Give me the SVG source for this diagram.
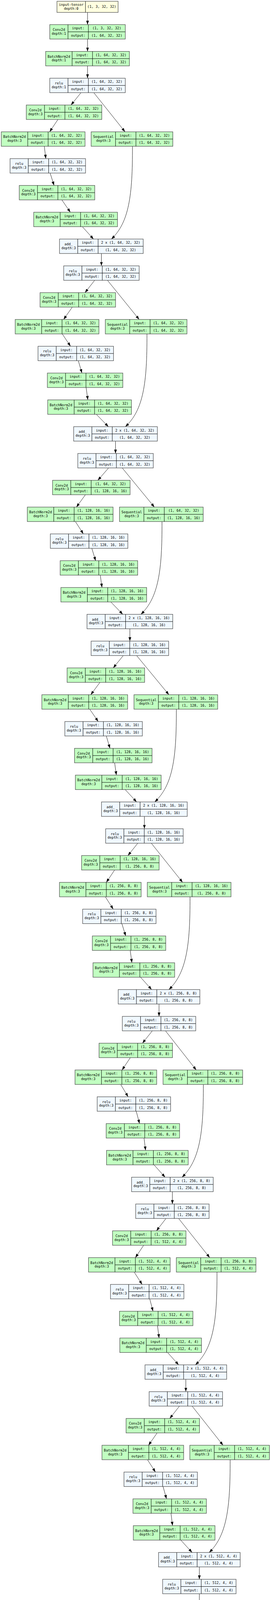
<svg xmlns="http://www.w3.org/2000/svg" width="691" height="4349" viewBox="0 0 691 4349">
<defs>
<style>
.nd rect{stroke:#4a4a4a;stroke-width:1.2}
.gr rect{fill:#c1ffc1}
.bl rect{fill:#f0f8ff}
.ye rect{fill:#ffffe0}
.nd path{stroke:#000;stroke-width:1;fill:none}
text{font-family:"DejaVu Sans Mono","Liberation Mono",monospace;font-size:8.75px;fill:#000;text-anchor:middle}
.e{stroke:#1a1a1a;stroke-width:1;fill:none;marker-end:url(#ah)}
</style>
<marker id="ah" markerUnits="userSpaceOnUse" markerWidth="10" markerHeight="7" refX="10" refY="3.5" orient="auto"><path d="M0,0L10,3.5L0,7z" fill="#000"/></marker>
</defs>
<rect width="691" height="4349" fill="#fff"/>
<g id="edges">
<path class="e" d="M224,31.7L224,63"/>
<path class="e" d="M224,100L224,131.62"/>
<path class="e" d="M224,168.62L224,200.24"/>
<path class="e" d="M207.3,237.24L181.7,268.86"/>
<path class="e" d="M240,237.24L320,337.48"/>
<path class="e" d="M148.3,305.86L127,337.48"/>
<path class="e" d="M113.3,374.48L117.3,406.1"/>
<path class="e" d="M128.3,443.1L138.3,474.72"/>
<path class="e" d="M158.3,511.72L180,543.34"/>
<path class="e" d="M210.7,580.34L239.3,611.96"/>
<path class="e" d="M339,374.48C339.5,500 330,570 285,611.96"/>
<path class="e" d="M259.5,648.96L259.5,680.58"/>
<path class="e" d="M242.3,717.58L217.5,749.2"/>
<path class="e" d="M275,717.58L356.2,817.82"/>
<path class="e" d="M185,786.2L162.8,817.82"/>
<path class="e" d="M159.3,854.82L180.5,886.44"/>
<path class="e" d="M200.4,923.44L209.7,955.06"/>
<path class="e" d="M220.4,992.06L224.8,1023.68"/>
<path class="e" d="M246.5,1060.68L277.4,1092.3"/>
<path class="e" d="M376.1,854.82C376.6,980 367,1050 320.8,1092.3"/>
<path class="e" d="M295.6,1129.3L295.6,1160.92"/>
<path class="e" d="M277.9,1197.92L250.4,1229.54"/>
<path class="e" d="M312.8,1197.92L395.1,1298.16"/>
<path class="e" d="M218.6,1266.54L195.6,1298.16"/>
<path class="e" d="M192.9,1335.16L213.3,1366.78"/>
<path class="e" d="M235,1403.78L244.7,1435.4"/>
<path class="e" d="M256.6,1472.4L261,1504.02"/>
<path class="e" d="M283.6,1541.02L314.2,1572.64"/>
<path class="e" d="M414.6,1335.16C415.1,1460 405.6,1530 360.6,1572.64"/>
<path class="e" d="M332.4,1609.64L332.4,1641.26"/>
<path class="e" d="M315.5,1678.26L289.8,1709.88"/>
<path class="e" d="M349.6,1678.26L432.3,1778.5"/>
<path class="e" d="M255.8,1746.88L232.3,1778.5"/>
<path class="e" d="M229.6,1815.5L251.3,1847.12"/>
<path class="e" d="M272.1,1884.12L281.4,1915.74"/>
<path class="e" d="M293.4,1952.74L297.8,1984.36"/>
<path class="e" d="M320.4,2021.36L349.6,2052.98"/>
<path class="e" d="M451.3,1815.5C451.8,1940 442.3,2010 396,2052.98"/>
<path class="e" d="M369.5,2089.98L369.5,2121.6"/>
<path class="e" d="M352.7,2158.6L327.4,2190.22"/>
<path class="e" d="M387.2,2158.6L467.3,2258.84"/>
<path class="e" d="M293.4,2227.22L272.1,2258.84"/>
<path class="e" d="M269.5,2295.84L289.8,2327.46"/>
<path class="e" d="M311.9,2364.46L321.7,2396.08"/>
<path class="e" d="M333.2,2433.08L337.6,2464.7"/>
<path class="e" d="M359.7,2501.7L388,2533.32"/>
<path class="e" d="M486.3,2295.84C486.8,2420 477.3,2490 432.3,2533.32"/>
<path class="e" d="M407,2570.32L407,2601.94"/>
<path class="e" d="M389.8,2638.94L364.6,2670.56"/>
<path class="e" d="M423.5,2638.94L502.2,2739.18"/>
<path class="e" d="M333.6,2707.56L312.4,2739.18"/>
<path class="e" d="M308.8,2776.18L327.9,2807.8"/>
<path class="e" d="M348.7,2844.8L357.1,2876.42"/>
<path class="e" d="M368.6,2913.42L372.6,2945.04"/>
<path class="e" d="M394.2,2982.04L422.6,3013.66"/>
<path class="e" d="M520.4,2776.18C520.9,2900 511.4,2970 465.9,3013.66"/>
<path class="e" d="M441.2,3050.66L441.2,3082.28"/>
<path class="e" d="M424.8,3119.28L400.4,3150.9"/>
<path class="e" d="M457.1,3119.28L536.7,3219.52"/>
<path class="e" d="M367.7,3187.9L346.5,3219.52"/>
<path class="e" d="M343.4,3256.52L363.7,3288.14"/>
<path class="e" d="M383.2,3325.14L391.6,3356.76"/>
<path class="e" d="M403.1,3393.76L407.1,3425.38"/>
<path class="e" d="M428.8,3462.38L457.1,3494"/>
<path class="e" d="M555.3,3256.52C555.8,3381 546.3,3451 500,3494"/>
<path class="e" d="M475.6,3531L475.6,3562.62"/>
<path class="e" d="M459.3,3599.62L434.5,3631.24"/>
<path class="e" d="M491.6,3599.62L570.8,3699.86"/>
<path class="e" d="M402.2,3668.24L380.1,3699.86"/>
<path class="e" d="M377.4,3736.86L397.8,3768.48"/>
<path class="e" d="M417.3,3805.48L426.1,3837.1"/>
<path class="e" d="M437.6,3874.1L441.6,3905.72"/>
<path class="e" d="M462.8,3942.72L491.6,3974.34"/>
<path class="e" d="M589,3736.86C589.5,3861 580,3931 535.4,3974.34"/>
<path class="e" d="M510.2,4011.34L510.2,4042.96"/>
<path class="e" d="M510.2,4079.96L510.2,4111.58"/>
<path class="e" d="M510.2,4148.58L510.2,4180.2"/>
<path class="e" d="M510.2,4217.2L510.2,4248.82"/>
<path class="e" d="M510.2,4285.82L510.2,4317.4"/>
</g>

<g id="n0" class="nd ye" transform="translate(145.75,3.3)"><rect width="156.5" height="28.4"/><path d="M73,0V28.4"/><text x="36.5" y="12">input-tensor</text><text x="36.5" y="22">depth:0</text><text x="114.75" y="16.4">(1, 3, 32, 32)</text></g>
<g id="n1" class="nd gr" transform="translate(127.4,63)"><rect width="193.2" height="37"/><path d="M46.6,0V37M98.8,0V37M46.6,18.5H193.2"/><text x="23.3" y="16">Conv2d</text><text x="23.3" y="25.7">depth:1</text><text x="72.7" y="12.25">input:</text><text x="72.7" y="30.75">output:</text><text x="146" y="12.25">(1, 3, 32, 32)</text><text x="146" y="30.75">(1, 64, 32, 32)</text></g>
<g id="n2" class="nd gr" transform="translate(116.85,131.62)"><rect width="214.3" height="37"/><path d="M67.7,0V37M119.9,0V37M67.7,18.5H214.3"/><text x="33.85" y="16">BatchNorm2d</text><text x="33.85" y="25.7">depth:1</text><text x="93.8" y="12.25">input:</text><text x="93.8" y="30.75">output:</text><text x="167.1" y="12.25">(1, 64, 32, 32)</text><text x="167.1" y="30.75">(1, 64, 32, 32)</text></g>
<g id="n3" class="nd bl" transform="translate(127.4,200.24)"><rect width="193.2" height="37"/><path d="M46.6,0V37M98.8,0V37M46.6,18.5H193.2"/><text x="23.3" y="16">relu</text><text x="23.3" y="25.7">depth:1</text><text x="72.7" y="12.25">input:</text><text x="72.7" y="30.75">output:</text><text x="146" y="12.25">(1, 64, 32, 32)</text><text x="146" y="30.75">(1, 64, 32, 32)</text></g>

<g id="n4" class="nd gr" transform="translate(67.3,268.86)"><rect width="193.2" height="37"/><path d="M46.6,0V37M98.8,0V37M46.6,18.5H193.2"/><text x="23.3" y="16">Conv2d</text><text x="23.3" y="25.7">depth:3</text><text x="72.7" y="12.25">input:</text><text x="72.7" y="30.75">output:</text><text x="146" y="12.25">(1, 64, 32, 32)</text><text x="146" y="30.75">(1, 64, 32, 32)</text></g>
<g id="n5" class="nd gr" transform="translate(3.3,337.48)"><rect width="214.3" height="37"/><path d="M67.7,0V37M119.9,0V37M67.7,18.5H214.3"/><text x="33.85" y="16">BatchNorm2d</text><text x="33.85" y="25.7">depth:3</text><text x="93.8" y="12.25">input:</text><text x="93.8" y="30.75">output:</text><text x="167.1" y="12.25">(1, 64, 32, 32)</text><text x="167.1" y="30.75">(1, 64, 32, 32)</text></g>
<g id="s5" class="nd gr" transform="translate(233.3,337.48)"><rect width="209" height="37"/><path d="M62.4,0V37M114.6,0V37M62.4,18.5H209"/><text x="31.2" y="16">Sequential</text><text x="31.2" y="25.7">depth:3</text><text x="88.5" y="12.25">input:</text><text x="88.5" y="30.75">output:</text><text x="161.8" y="12.25">(1, 64, 32, 32)</text><text x="161.8" y="30.75">(1, 64, 32, 32)</text></g>
<g id="n6" class="nd bl" transform="translate(25.7,406.1)"><rect width="193.2" height="37"/><path d="M46.6,0V37M98.8,0V37M46.6,18.5H193.2"/><text x="23.3" y="16">relu</text><text x="23.3" y="25.7">depth:3</text><text x="72.7" y="12.25">input:</text><text x="72.7" y="30.75">output:</text><text x="146" y="12.25">(1, 64, 32, 32)</text><text x="146" y="30.75">(1, 64, 32, 32)</text></g>
<g id="n7" class="nd gr" transform="translate(49.3,474.72)"><rect width="193.2" height="37"/><path d="M46.6,0V37M98.8,0V37M46.6,18.5H193.2"/><text x="23.3" y="16">Conv2d</text><text x="23.3" y="25.7">depth:3</text><text x="72.7" y="12.25">input:</text><text x="72.7" y="30.75">output:</text><text x="146" y="12.25">(1, 64, 32, 32)</text><text x="146" y="30.75">(1, 64, 32, 32)</text></g>
<g id="n8" class="nd gr" transform="translate(86.3,543.34)"><rect width="214.3" height="37"/><path d="M67.7,0V37M119.9,0V37M67.7,18.5H214.3"/><text x="33.85" y="16">BatchNorm2d</text><text x="33.85" y="25.7">depth:3</text><text x="93.8" y="12.25">input:</text><text x="93.8" y="30.75">output:</text><text x="167.1" y="12.25">(1, 64, 32, 32)</text><text x="167.1" y="30.75">(1, 64, 32, 32)</text></g>
<g id="n9" class="nd bl" transform="translate(152.3,611.96)"><rect width="214.2" height="37"/><path d="M46.6,0V37M98.8,0V37M46.6,18.5H214.2"/><text x="23.3" y="16">add_</text><text x="23.3" y="25.7">depth:3</text><text x="72.7" y="12.25">input:</text><text x="72.7" y="30.75">output:</text><text x="156.5" y="12.25">2 x (1, 64, 32, 32)</text><text x="156.5" y="30.75">(1, 64, 32, 32)</text></g>
<g id="n10" class="nd bl" transform="translate(163,680.58)"><rect width="193.2" height="37"/><path d="M46.6,0V37M98.8,0V37M46.6,18.5H193.2"/><text x="23.3" y="16">relu</text><text x="23.3" y="25.7">depth:3</text><text x="72.7" y="12.25">input:</text><text x="72.7" y="30.75">output:</text><text x="146" y="12.25">(1, 64, 32, 32)</text><text x="146" y="30.75">(1, 64, 32, 32)</text></g>

<g id="n11" class="nd gr" transform="translate(102.5,749.2)"><rect width="193.2" height="37"/><path d="M46.6,0V37M98.8,0V37M46.6,18.5H193.2"/><text x="23.3" y="16">Conv2d</text><text x="23.3" y="25.7">depth:3</text><text x="72.7" y="12.25">input:</text><text x="72.7" y="30.75">output:</text><text x="146" y="12.25">(1, 64, 32, 32)</text><text x="146" y="30.75">(1, 64, 32, 32)</text></g>
<g id="n12" class="nd gr" transform="translate(38.9,817.82)"><rect width="214.3" height="37"/><path d="M67.7,0V37M119.9,0V37M67.7,18.5H214.3"/><text x="33.85" y="16">BatchNorm2d</text><text x="33.85" y="25.7">depth:3</text><text x="93.8" y="12.25">input:</text><text x="93.8" y="30.75">output:</text><text x="167.1" y="12.25">(1, 64, 32, 32)</text><text x="167.1" y="30.75">(1, 64, 32, 32)</text></g>
<g id="s12" class="nd gr" transform="translate(269.5,817.82)"><rect width="209" height="37"/><path d="M62.4,0V37M114.6,0V37M62.4,18.5H209"/><text x="31.2" y="16">Sequential</text><text x="31.2" y="25.7">depth:3</text><text x="88.5" y="12.25">input:</text><text x="88.5" y="30.75">output:</text><text x="161.8" y="12.25">(1, 64, 32, 32)</text><text x="161.8" y="30.75">(1, 64, 32, 32)</text></g>
<g id="n13" class="nd bl" transform="translate(97.3,886.44)"><rect width="193.2" height="37"/><path d="M46.6,0V37M98.8,0V37M46.6,18.5H193.2"/><text x="23.3" y="16">relu</text><text x="23.3" y="25.7">depth:3</text><text x="72.7" y="12.25">input:</text><text x="72.7" y="30.75">output:</text><text x="146" y="12.25">(1, 64, 32, 32)</text><text x="146" y="30.75">(1, 64, 32, 32)</text></g>
<g id="n14" class="nd gr" transform="translate(121.2,955.06)"><rect width="193.2" height="37"/><path d="M46.6,0V37M98.8,0V37M46.6,18.5H193.2"/><text x="23.3" y="16">Conv2d</text><text x="23.3" y="25.7">depth:3</text><text x="72.7" y="12.25">input:</text><text x="72.7" y="30.75">output:</text><text x="146" y="12.25">(1, 64, 32, 32)</text><text x="146" y="30.75">(1, 64, 32, 32)</text></g>
<g id="n15" class="nd gr" transform="translate(122.1,1023.68)"><rect width="214.3" height="37"/><path d="M67.7,0V37M119.9,0V37M67.7,18.5H214.3"/><text x="33.85" y="16">BatchNorm2d</text><text x="33.85" y="25.7">depth:3</text><text x="93.8" y="12.25">input:</text><text x="93.8" y="30.75">output:</text><text x="167.1" y="12.25">(1, 64, 32, 32)</text><text x="167.1" y="30.75">(1, 64, 32, 32)</text></g>
<g id="n16" class="nd bl" transform="translate(188.5,1092.3)"><rect width="214.2" height="37"/><path d="M46.6,0V37M98.8,0V37M46.6,18.5H214.2"/><text x="23.3" y="16">add_</text><text x="23.3" y="25.7">depth:3</text><text x="72.7" y="12.25">input:</text><text x="72.7" y="30.75">output:</text><text x="156.5" y="12.25">2 x (1, 64, 32, 32)</text><text x="156.5" y="30.75">(1, 64, 32, 32)</text></g>
<g id="n17" class="nd bl" transform="translate(199.1,1160.92)"><rect width="193.2" height="37"/><path d="M46.6,0V37M98.8,0V37M46.6,18.5H193.2"/><text x="23.3" y="16">relu</text><text x="23.3" y="25.7">depth:3</text><text x="72.7" y="12.25">input:</text><text x="72.7" y="30.75">output:</text><text x="146" y="12.25">(1, 64, 32, 32)</text><text x="146" y="30.75">(1, 64, 32, 32)</text></g>

<g id="n18" class="nd gr" transform="translate(134.5,1229.54)"><rect width="198.4" height="37"/><path d="M46.6,0V37M98.8,0V37M46.6,18.5H198.4"/><text x="23.3" y="16">Conv2d</text><text x="23.3" y="25.7">depth:3</text><text x="72.7" y="12.25">input:</text><text x="72.7" y="30.75">output:</text><text x="148.6" y="12.25">(1, 64, 32, 32)</text><text x="148.6" y="30.75">(1, 128, 16, 16)</text></g>
<g id="n19" class="nd gr" transform="translate(69.9,1298.16)"><rect width="219.5" height="37"/><path d="M67.7,0V37M119.9,0V37M67.7,18.5H219.5"/><text x="33.85" y="16">BatchNorm2d</text><text x="33.85" y="25.7">depth:3</text><text x="93.8" y="12.25">input:</text><text x="93.8" y="30.75">output:</text><text x="169.7" y="12.25">(1, 128, 16, 16)</text><text x="169.7" y="30.75">(1, 128, 16, 16)</text></g>
<g id="s19" class="nd gr" transform="translate(305.8,1298.16)"><rect width="214.2" height="37"/><path d="M62.4,0V37M114.6,0V37M62.4,18.5H214.2"/><text x="31.2" y="16">Sequential</text><text x="31.2" y="25.7">depth:3</text><text x="88.5" y="12.25">input:</text><text x="88.5" y="30.75">output:</text><text x="164.4" y="12.25">(1, 64, 32, 32)</text><text x="164.4" y="30.75">(1, 128, 16, 16)</text></g>
<g id="n20" class="nd bl" transform="translate(128.8,1366.78)"><rect width="198.4" height="37"/><path d="M46.6,0V37M98.8,0V37M46.6,18.5H198.4"/><text x="23.3" y="16">relu</text><text x="23.3" y="25.7">depth:3</text><text x="72.7" y="12.25">input:</text><text x="72.7" y="30.75">output:</text><text x="148.6" y="12.25">(1, 128, 16, 16)</text><text x="148.6" y="30.75">(1, 128, 16, 16)</text></g>
<g id="n21" class="nd gr" transform="translate(154,1435.4)"><rect width="198.4" height="37"/><path d="M46.6,0V37M98.8,0V37M46.6,18.5H198.4"/><text x="23.3" y="16">Conv2d</text><text x="23.3" y="25.7">depth:3</text><text x="72.7" y="12.25">input:</text><text x="72.7" y="30.75">output:</text><text x="148.6" y="12.25">(1, 128, 16, 16)</text><text x="148.6" y="30.75">(1, 128, 16, 16)</text></g>
<g id="n22" class="nd gr" transform="translate(155.8,1504.02)"><rect width="219.5" height="37"/><path d="M67.7,0V37M119.9,0V37M67.7,18.5H219.5"/><text x="33.85" y="16">BatchNorm2d</text><text x="33.85" y="25.7">depth:3</text><text x="93.8" y="12.25">input:</text><text x="93.8" y="30.75">output:</text><text x="169.7" y="12.25">(1, 128, 16, 16)</text><text x="169.7" y="30.75">(1, 128, 16, 16)</text></g>
<g id="n23" class="nd bl" transform="translate(222.6,1572.64)"><rect width="219.5" height="37"/><path d="M46.6,0V37M98.8,0V37M46.6,18.5H219.5"/><text x="23.3" y="16">add_</text><text x="23.3" y="25.7">depth:3</text><text x="72.7" y="12.25">input:</text><text x="72.7" y="30.75">output:</text><text x="159.15" y="12.25">2 x (1, 128, 16, 16)</text><text x="159.15" y="30.75">(1, 128, 16, 16)</text></g>
<g id="n24" class="nd bl" transform="translate(233.2,1641.26)"><rect width="198.4" height="37"/><path d="M46.6,0V37M98.8,0V37M46.6,18.5H198.4"/><text x="23.3" y="16">relu</text><text x="23.3" y="25.7">depth:3</text><text x="72.7" y="12.25">input:</text><text x="72.7" y="30.75">output:</text><text x="148.6" y="12.25">(1, 128, 16, 16)</text><text x="148.6" y="30.75">(1, 128, 16, 16)</text></g>

<g id="n25" class="nd gr" transform="translate(171.7,1709.88)"><rect width="198.4" height="37"/><path d="M46.6,0V37M98.8,0V37M46.6,18.5H198.4"/><text x="23.3" y="16">Conv2d</text><text x="23.3" y="25.7">depth:3</text><text x="72.7" y="12.25">input:</text><text x="72.7" y="30.75">output:</text><text x="148.6" y="12.25">(1, 128, 16, 16)</text><text x="148.6" y="30.75">(1, 128, 16, 16)</text></g>
<g id="n26" class="nd gr" transform="translate(107.1,1778.5)"><rect width="219.5" height="37"/><path d="M67.7,0V37M119.9,0V37M67.7,18.5H219.5"/><text x="33.85" y="16">BatchNorm2d</text><text x="33.85" y="25.7">depth:3</text><text x="93.8" y="12.25">input:</text><text x="93.8" y="30.75">output:</text><text x="169.7" y="12.25">(1, 128, 16, 16)</text><text x="169.7" y="30.75">(1, 128, 16, 16)</text></g>
<g id="s26" class="nd gr" transform="translate(342.9,1778.5)"><rect width="214.2" height="37"/><path d="M62.4,0V37M114.6,0V37M62.4,18.5H214.2"/><text x="31.2" y="16">Sequential</text><text x="31.2" y="25.7">depth:3</text><text x="88.5" y="12.25">input:</text><text x="88.5" y="30.75">output:</text><text x="164.4" y="12.25">(1, 128, 16, 16)</text><text x="164.4" y="30.75">(1, 128, 16, 16)</text></g>
<g id="n27" class="nd bl" transform="translate(165.9,1847.12)"><rect width="198.4" height="37"/><path d="M46.6,0V37M98.8,0V37M46.6,18.5H198.4"/><text x="23.3" y="16">relu</text><text x="23.3" y="25.7">depth:3</text><text x="72.7" y="12.25">input:</text><text x="72.7" y="30.75">output:</text><text x="148.6" y="12.25">(1, 128, 16, 16)</text><text x="148.6" y="30.75">(1, 128, 16, 16)</text></g>
<g id="n28" class="nd gr" transform="translate(190.7,1915.74)"><rect width="198.4" height="37"/><path d="M46.6,0V37M98.8,0V37M46.6,18.5H198.4"/><text x="23.3" y="16">Conv2d</text><text x="23.3" y="25.7">depth:3</text><text x="72.7" y="12.25">input:</text><text x="72.7" y="30.75">output:</text><text x="148.6" y="12.25">(1, 128, 16, 16)</text><text x="148.6" y="30.75">(1, 128, 16, 16)</text></g>
<g id="n29" class="nd gr" transform="translate(192.9,1984.36)"><rect width="219.5" height="37"/><path d="M67.7,0V37M119.9,0V37M67.7,18.5H219.5"/><text x="33.85" y="16">BatchNorm2d</text><text x="33.85" y="25.7">depth:3</text><text x="93.8" y="12.25">input:</text><text x="93.8" y="30.75">output:</text><text x="169.7" y="12.25">(1, 128, 16, 16)</text><text x="169.7" y="30.75">(1, 128, 16, 16)</text></g>
<g id="n30" class="nd bl" transform="translate(259.7,2052.98)"><rect width="219.5" height="37"/><path d="M46.6,0V37M98.8,0V37M46.6,18.5H219.5"/><text x="23.3" y="16">add_</text><text x="23.3" y="25.7">depth:3</text><text x="72.7" y="12.25">input:</text><text x="72.7" y="30.75">output:</text><text x="159.15" y="12.25">2 x (1, 128, 16, 16)</text><text x="159.15" y="30.75">(1, 128, 16, 16)</text></g>
<g id="n31" class="nd bl" transform="translate(270.4,2121.6)"><rect width="198.4" height="37"/><path d="M46.6,0V37M98.8,0V37M46.6,18.5H198.4"/><text x="23.3" y="16">relu</text><text x="23.3" y="25.7">depth:3</text><text x="72.7" y="12.25">input:</text><text x="72.7" y="30.75">output:</text><text x="148.6" y="12.25">(1, 128, 16, 16)</text><text x="148.6" y="30.75">(1, 128, 16, 16)</text></g>

<g id="n32" class="nd gr" transform="translate(208.8,2190.22)"><rect width="198.4" height="37"/><path d="M46.6,0V37M98.8,0V37M46.6,18.5H198.4"/><text x="23.3" y="16">Conv2d</text><text x="23.3" y="25.7">depth:3</text><text x="72.7" y="12.25">input:</text><text x="72.7" y="30.75">output:</text><text x="148.6" y="12.25">(1, 128, 16, 16)</text><text x="148.6" y="30.75">(1, 256, 8, 8)</text></g>
<g id="n33" class="nd gr" transform="translate(152.2,2258.84)"><rect width="209" height="37"/><path d="M67.7,0V37M119.9,0V37M67.7,18.5H209"/><text x="33.85" y="16">BatchNorm2d</text><text x="33.85" y="25.7">depth:3</text><text x="93.8" y="12.25">input:</text><text x="93.8" y="30.75">output:</text><text x="164.45" y="12.25">(1, 256, 8, 8)</text><text x="164.45" y="30.75">(1, 256, 8, 8)</text></g>
<g id="s33" class="nd gr" transform="translate(377,2258.84)"><rect width="214.2" height="37"/><path d="M62.4,0V37M114.6,0V37M62.4,18.5H214.2"/><text x="31.2" y="16">Sequential</text><text x="31.2" y="25.7">depth:3</text><text x="88.5" y="12.25">input:</text><text x="88.5" y="30.75">output:</text><text x="164.4" y="12.25">(1, 128, 16, 16)</text><text x="164.4" y="30.75">(1, 256, 8, 8)</text></g>
<g id="n34" class="nd bl" transform="translate(211.5,2327.46)"><rect width="187.9" height="37"/><path d="M46.6,0V37M98.8,0V37M46.6,18.5H187.9"/><text x="23.3" y="16">relu</text><text x="23.3" y="25.7">depth:3</text><text x="72.7" y="12.25">input:</text><text x="72.7" y="30.75">output:</text><text x="143.35" y="12.25">(1, 256, 8, 8)</text><text x="143.35" y="30.75">(1, 256, 8, 8)</text></g>
<g id="n35" class="nd gr" transform="translate(236.3,2396.08)"><rect width="187.9" height="37"/><path d="M46.6,0V37M98.8,0V37M46.6,18.5H187.9"/><text x="23.3" y="16">Conv2d</text><text x="23.3" y="25.7">depth:3</text><text x="72.7" y="12.25">input:</text><text x="72.7" y="30.75">output:</text><text x="143.35" y="12.25">(1, 256, 8, 8)</text><text x="143.35" y="30.75">(1, 256, 8, 8)</text></g>
<g id="n36" class="nd gr" transform="translate(238,2464.7)"><rect width="209" height="37"/><path d="M67.7,0V37M119.9,0V37M67.7,18.5H209"/><text x="33.85" y="16">BatchNorm2d</text><text x="33.85" y="25.7">depth:3</text><text x="93.8" y="12.25">input:</text><text x="93.8" y="30.75">output:</text><text x="164.45" y="12.25">(1, 256, 8, 8)</text><text x="164.45" y="30.75">(1, 256, 8, 8)</text></g>
<g id="n37" class="nd bl" transform="translate(302.5,2533.32)"><rect width="209" height="37"/><path d="M46.6,0V37M98.8,0V37M46.6,18.5H209"/><text x="23.3" y="16">add_</text><text x="23.3" y="25.7">depth:3</text><text x="72.7" y="12.25">input:</text><text x="72.7" y="30.75">output:</text><text x="153.9" y="12.25">2 x (1, 256, 8, 8)</text><text x="153.9" y="30.75">(1, 256, 8, 8)</text></g>
<g id="n38" class="nd bl" transform="translate(313.05,2601.94)"><rect width="187.9" height="37"/><path d="M46.6,0V37M98.8,0V37M46.6,18.5H187.9"/><text x="23.3" y="16">relu</text><text x="23.3" y="25.7">depth:3</text><text x="72.7" y="12.25">input:</text><text x="72.7" y="30.75">output:</text><text x="143.35" y="12.25">(1, 256, 8, 8)</text><text x="143.35" y="30.75">(1, 256, 8, 8)</text></g>

<g id="n39" class="nd gr" transform="translate(253.5,2670.56)"><rect width="187.9" height="37"/><path d="M46.6,0V37M98.8,0V37M46.6,18.5H187.9"/><text x="23.3" y="16">Conv2d</text><text x="23.3" y="25.7">depth:3</text><text x="72.7" y="12.25">input:</text><text x="72.7" y="30.75">output:</text><text x="143.35" y="12.25">(1, 256, 8, 8)</text><text x="143.35" y="30.75">(1, 256, 8, 8)</text></g>
<g id="n40" class="nd gr" transform="translate(192,2739.18)"><rect width="209" height="37"/><path d="M67.7,0V37M119.9,0V37M67.7,18.5H209"/><text x="33.85" y="16">BatchNorm2d</text><text x="33.85" y="25.7">depth:3</text><text x="93.8" y="12.25">input:</text><text x="93.8" y="30.75">output:</text><text x="164.45" y="12.25">(1, 256, 8, 8)</text><text x="164.45" y="30.75">(1, 256, 8, 8)</text></g>
<g id="s40" class="nd gr" transform="translate(417.3,2739.18)"><rect width="203.7" height="37"/><path d="M62.4,0V37M114.6,0V37M62.4,18.5H203.7"/><text x="31.2" y="16">Sequential</text><text x="31.2" y="25.7">depth:3</text><text x="88.5" y="12.25">input:</text><text x="88.5" y="30.75">output:</text><text x="159.15" y="12.25">(1, 256, 8, 8)</text><text x="159.15" y="30.75">(1, 256, 8, 8)</text></g>
<g id="n41" class="nd bl" transform="translate(248.7,2807.8)"><rect width="187.9" height="37"/><path d="M46.6,0V37M98.8,0V37M46.6,18.5H187.9"/><text x="23.3" y="16">relu</text><text x="23.3" y="25.7">depth:3</text><text x="72.7" y="12.25">input:</text><text x="72.7" y="30.75">output:</text><text x="143.35" y="12.25">(1, 256, 8, 8)</text><text x="143.35" y="30.75">(1, 256, 8, 8)</text></g>
<g id="n42" class="nd gr" transform="translate(271.7,2876.42)"><rect width="187.9" height="37"/><path d="M46.6,0V37M98.8,0V37M46.6,18.5H187.9"/><text x="23.3" y="16">Conv2d</text><text x="23.3" y="25.7">depth:3</text><text x="72.7" y="12.25">input:</text><text x="72.7" y="30.75">output:</text><text x="143.35" y="12.25">(1, 256, 8, 8)</text><text x="143.35" y="30.75">(1, 256, 8, 8)</text></g>
<g id="n43" class="nd gr" transform="translate(272.6,2945.04)"><rect width="209" height="37"/><path d="M67.7,0V37M119.9,0V37M67.7,18.5H209"/><text x="33.85" y="16">BatchNorm2d</text><text x="33.85" y="25.7">depth:3</text><text x="93.8" y="12.25">input:</text><text x="93.8" y="30.75">output:</text><text x="164.45" y="12.25">(1, 256, 8, 8)</text><text x="164.45" y="30.75">(1, 256, 8, 8)</text></g>
<g id="n44" class="nd bl" transform="translate(336.7,3013.66)"><rect width="209" height="37"/><path d="M46.6,0V37M98.8,0V37M46.6,18.5H209"/><text x="23.3" y="16">add_</text><text x="23.3" y="25.7">depth:3</text><text x="72.7" y="12.25">input:</text><text x="72.7" y="30.75">output:</text><text x="153.9" y="12.25">2 x (1, 256, 8, 8)</text><text x="153.9" y="30.75">(1, 256, 8, 8)</text></g>
<g id="n45" class="nd bl" transform="translate(347.25,3082.28)"><rect width="187.9" height="37"/><path d="M46.6,0V37M98.8,0V37M46.6,18.5H187.9"/><text x="23.3" y="16">relu</text><text x="23.3" y="25.7">depth:3</text><text x="72.7" y="12.25">input:</text><text x="72.7" y="30.75">output:</text><text x="143.35" y="12.25">(1, 256, 8, 8)</text><text x="143.35" y="30.75">(1, 256, 8, 8)</text></g>

<g id="n46" class="nd gr" transform="translate(288,3150.9)"><rect width="187.9" height="37"/><path d="M46.6,0V37M98.8,0V37M46.6,18.5H187.9"/><text x="23.3" y="16">Conv2d</text><text x="23.3" y="25.7">depth:3</text><text x="72.7" y="12.25">input:</text><text x="72.7" y="30.75">output:</text><text x="143.35" y="12.25">(1, 256, 8, 8)</text><text x="143.35" y="30.75">(1, 512, 4, 4)</text></g>
<g id="n47" class="nd gr" transform="translate(226.5,3219.52)"><rect width="209" height="37"/><path d="M67.7,0V37M119.9,0V37M67.7,18.5H209"/><text x="33.85" y="16">BatchNorm2d</text><text x="33.85" y="25.7">depth:3</text><text x="93.8" y="12.25">input:</text><text x="93.8" y="30.75">output:</text><text x="164.45" y="12.25">(1, 512, 4, 4)</text><text x="164.45" y="30.75">(1, 512, 4, 4)</text></g>
<g id="s47" class="nd gr" transform="translate(451.3,3219.52)"><rect width="203.7" height="37"/><path d="M62.4,0V37M114.6,0V37M62.4,18.5H203.7"/><text x="31.2" y="16">Sequential</text><text x="31.2" y="25.7">depth:3</text><text x="88.5" y="12.25">input:</text><text x="88.5" y="30.75">output:</text><text x="159.15" y="12.25">(1, 256, 8, 8)</text><text x="159.15" y="30.75">(1, 512, 4, 4)</text></g>
<g id="n48" class="nd bl" transform="translate(282.7,3288.14)"><rect width="187.9" height="37"/><path d="M46.6,0V37M98.8,0V37M46.6,18.5H187.9"/><text x="23.3" y="16">relu</text><text x="23.3" y="25.7">depth:3</text><text x="72.7" y="12.25">input:</text><text x="72.7" y="30.75">output:</text><text x="143.35" y="12.25">(1, 512, 4, 4)</text><text x="143.35" y="30.75">(1, 512, 4, 4)</text></g>
<g id="n49" class="nd gr" transform="translate(305.8,3356.76)"><rect width="187.9" height="37"/><path d="M46.6,0V37M98.8,0V37M46.6,18.5H187.9"/><text x="23.3" y="16">Conv2d</text><text x="23.3" y="25.7">depth:3</text><text x="72.7" y="12.25">input:</text><text x="72.7" y="30.75">output:</text><text x="143.35" y="12.25">(1, 512, 4, 4)</text><text x="143.35" y="30.75">(1, 512, 4, 4)</text></g>
<g id="n50" class="nd gr" transform="translate(306.6,3425.38)"><rect width="209" height="37"/><path d="M67.7,0V37M119.9,0V37M67.7,18.5H209"/><text x="33.85" y="16">BatchNorm2d</text><text x="33.85" y="25.7">depth:3</text><text x="93.8" y="12.25">input:</text><text x="93.8" y="30.75">output:</text><text x="164.45" y="12.25">(1, 512, 4, 4)</text><text x="164.45" y="30.75">(1, 512, 4, 4)</text></g>
<g id="n51" class="nd bl" transform="translate(371.1,3494)"><rect width="209" height="37"/><path d="M46.6,0V37M98.8,0V37M46.6,18.5H209"/><text x="23.3" y="16">add_</text><text x="23.3" y="25.7">depth:3</text><text x="72.7" y="12.25">input:</text><text x="72.7" y="30.75">output:</text><text x="153.9" y="12.25">2 x (1, 512, 4, 4)</text><text x="153.9" y="30.75">(1, 512, 4, 4)</text></g>
<g id="n52" class="nd bl" transform="translate(381.65,3562.62)"><rect width="187.9" height="37"/><path d="M46.6,0V37M98.8,0V37M46.6,18.5H187.9"/><text x="23.3" y="16">relu</text><text x="23.3" y="25.7">depth:3</text><text x="72.7" y="12.25">input:</text><text x="72.7" y="30.75">output:</text><text x="143.35" y="12.25">(1, 512, 4, 4)</text><text x="143.35" y="30.75">(1, 512, 4, 4)</text></g>

<g id="n53" class="nd gr" transform="translate(322.6,3631.24)"><rect width="187.9" height="37"/><path d="M46.6,0V37M98.8,0V37M46.6,18.5H187.9"/><text x="23.3" y="16">Conv2d</text><text x="23.3" y="25.7">depth:3</text><text x="72.7" y="12.25">input:</text><text x="72.7" y="30.75">output:</text><text x="143.35" y="12.25">(1, 512, 4, 4)</text><text x="143.35" y="30.75">(1, 512, 4, 4)</text></g>
<g id="n54" class="nd gr" transform="translate(261,3699.86)"><rect width="209" height="37"/><path d="M67.7,0V37M119.9,0V37M67.7,18.5H209"/><text x="33.85" y="16">BatchNorm2d</text><text x="33.85" y="25.7">depth:3</text><text x="93.8" y="12.25">input:</text><text x="93.8" y="30.75">output:</text><text x="164.45" y="12.25">(1, 512, 4, 4)</text><text x="164.45" y="30.75">(1, 512, 4, 4)</text></g>
<g id="s54" class="nd gr" transform="translate(485.8,3699.86)"><rect width="203.7" height="37"/><path d="M62.4,0V37M114.6,0V37M62.4,18.5H203.7"/><text x="31.2" y="16">Sequential</text><text x="31.2" y="25.7">depth:3</text><text x="88.5" y="12.25">input:</text><text x="88.5" y="30.75">output:</text><text x="159.15" y="12.25">(1, 512, 4, 4)</text><text x="159.15" y="30.75">(1, 512, 4, 4)</text></g>
<g id="n55" class="nd bl" transform="translate(317.3,3768.48)"><rect width="187.9" height="37"/><path d="M46.6,0V37M98.8,0V37M46.6,18.5H187.9"/><text x="23.3" y="16">relu</text><text x="23.3" y="25.7">depth:3</text><text x="72.7" y="12.25">input:</text><text x="72.7" y="30.75">output:</text><text x="143.35" y="12.25">(1, 512, 4, 4)</text><text x="143.35" y="30.75">(1, 512, 4, 4)</text></g>
<g id="n56" class="nd gr" transform="translate(340.3,3837.1)"><rect width="187.9" height="37"/><path d="M46.6,0V37M98.8,0V37M46.6,18.5H187.9"/><text x="23.3" y="16">Conv2d</text><text x="23.3" y="25.7">depth:3</text><text x="72.7" y="12.25">input:</text><text x="72.7" y="30.75">output:</text><text x="143.35" y="12.25">(1, 512, 4, 4)</text><text x="143.35" y="30.75">(1, 512, 4, 4)</text></g>
<g id="n57" class="nd gr" transform="translate(341.2,3905.72)"><rect width="209" height="37"/><path d="M67.7,0V37M119.9,0V37M67.7,18.5H209"/><text x="33.85" y="16">BatchNorm2d</text><text x="33.85" y="25.7">depth:3</text><text x="93.8" y="12.25">input:</text><text x="93.8" y="30.75">output:</text><text x="164.45" y="12.25">(1, 512, 4, 4)</text><text x="164.45" y="30.75">(1, 512, 4, 4)</text></g>
<g id="n58" class="nd bl" transform="translate(405.7,3974.34)"><rect width="209" height="37"/><path d="M46.6,0V37M98.8,0V37M46.6,18.5H209"/><text x="23.3" y="16">add_</text><text x="23.3" y="25.7">depth:3</text><text x="72.7" y="12.25">input:</text><text x="72.7" y="30.75">output:</text><text x="153.9" y="12.25">2 x (1, 512, 4, 4)</text><text x="153.9" y="30.75">(1, 512, 4, 4)</text></g>
<g id="n59" class="nd bl" transform="translate(416.25,4042.96)"><rect width="187.9" height="37"/><path d="M46.6,0V37M98.8,0V37M46.6,18.5H187.9"/><text x="23.3" y="16">relu</text><text x="23.3" y="25.7">depth:3</text><text x="72.7" y="12.25">input:</text><text x="72.7" y="30.75">output:</text><text x="143.35" y="12.25">(1, 512, 4, 4)</text><text x="143.35" y="30.75">(1, 512, 4, 4)</text></g>
<g id="n60" class="nd bl" transform="translate(408.35,4111.58)"><rect width="203.7" height="37"/><path d="M62.4,0V37M114.6,0V37M62.4,18.5H203.7"/><text x="31.2" y="16">avg_pool2d</text><text x="31.2" y="25.7">depth:1</text><text x="88.5" y="12.25">input:</text><text x="88.5" y="30.75">output:</text><text x="159.15" y="12.25">(1, 512, 4, 4)</text><text x="159.15" y="30.75">(1, 512, 1, 1)</text></g>
<g id="n61" class="nd bl" transform="translate(416.25,4180.2)"><rect width="187.9" height="37"/><path d="M46.6,0V37M98.8,0V37M46.6,18.5H187.9"/><text x="23.3" y="16">view</text><text x="23.3" y="25.7">depth:1</text><text x="72.7" y="12.25">input:</text><text x="72.7" y="30.75">output:</text><text x="143.35" y="12.25">(1, 512, 1, 1)</text><text x="143.35" y="30.75">(1, 512)</text></g>
<g id="n62" class="nd gr" transform="translate(432.05,4248.82)"><rect width="156.3" height="37"/><path d="M46.6,0V37M98.8,0V37M46.6,18.5H156.3"/><text x="23.3" y="16">Linear</text><text x="23.3" y="25.7">depth:1</text><text x="72.7" y="12.25">input:</text><text x="72.7" y="30.75">output:</text><text x="127.55" y="12.25">(1, 512)</text><text x="127.55" y="30.75">(1, 10)</text></g>
<g id="n63" class="nd ye" transform="translate(447.8,4317.4)"><rect width="124.8" height="28.4"/><path d="M78.2,0V28.4"/><text x="39.1" y="12">output-tensor</text><text x="39.1" y="22">depth:0</text><text x="101.5" y="16.4">(1, 10)</text></g>
</svg>
